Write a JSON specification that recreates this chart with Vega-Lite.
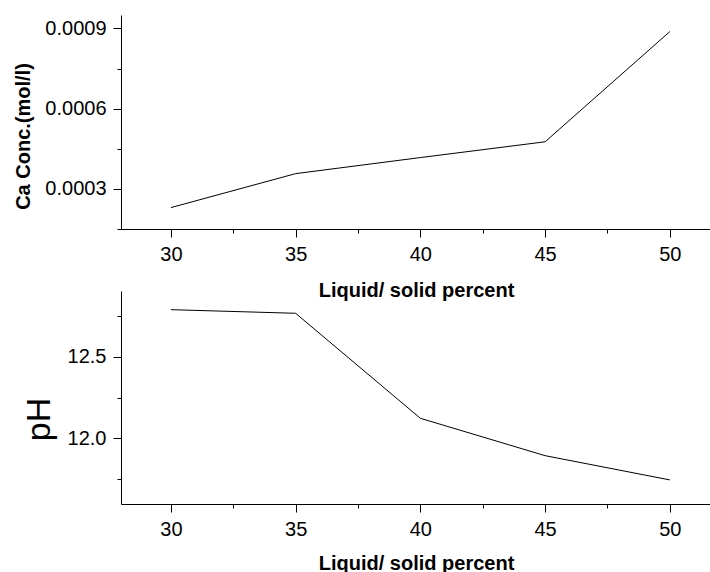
{
  "$schema": "https://vega.github.io/schema/vega-lite/v6.json",
  "background": "white",
  "padding": {"left": 12, "top": 15, "right": 0, "bottom": 0},
  "bounds": "flush",
  "spacing": 62,
  "config": {
    "font": "Liberation Sans",
    "view": {"stroke": null},
    "axis": {
      "grid": false,
      "domainColor": "black",
      "domainWidth": 1,
      "tickColor": "black",
      "tickWidth": 1,
      "labelColor": "black",
      "titleColor": "black",
      "labelFontSize": 20,
      "labelPadding": 7,
      "labelOverlap": false,
      "labelFlush": false,
      "titleBaseline": "alphabetic"
    }
  },
  "datasets": {
    "ca": [
      {"ratio": 30, "ca": 0.00023},
      {"ratio": 35, "ca": 0.000357},
      {"ratio": 40, "ca": 0.000417},
      {"ratio": 45, "ca": 0.000476},
      {"ratio": 50, "ca": 0.000888}
    ],
    "ph": [
      {"ratio": 30, "ph": 12.786},
      {"ratio": 35, "ph": 12.764},
      {"ratio": 40, "ph": 12.123},
      {"ratio": 45, "ph": 11.895},
      {"ratio": 50, "ph": 11.747}
    ]
  },
  "vconcat": [
    {
      "width": 590,
      "height": 214,
      "data": {"name": "ca"},
      "mark": {"type": "line", "color": "black", "strokeWidth": 1},
      "encoding": {
        "x": {
          "field": "ratio",
          "type": "quantitative",
          "scale": {"domain": [28, 51.65], "nice": false, "zero": false},
          "axis": {
            "title": "Liquid/ solid percent",
            "titleFontSize": 20,
            "titleFontWeight": "bold",
            "titleY": 67,
            "values": [30, 32.5, 35, 37.5, 40, 42.5, 45, 47.5, 50],
            "format": "d",
            "labelExpr": "round(datum.value*2) % 10 === 0 ? datum.label : ''",
            "tickSize": {"condition": {"test": "round(datum.value*2) % 10 !== 0", "value": 4}, "value": 8}
          }
        },
        "y": {
          "field": "ca",
          "type": "quantitative",
          "scale": {"domain": [0.00015, 0.00095], "nice": false, "zero": false},
          "axis": {
            "title": "Ca Conc.(mol/l)",
            "titleFontSize": 20,
            "titleFontWeight": "bold",
            "titleX": -92,
            "titleY": 121,
            "titleAlign": "center",
            "values": [0.00015, 0.0003, 0.00045, 0.0006, 0.00075, 0.0009],
            "format": ".4f",
            "labelExpr": "round(datum.value*20000) % 6 === 0 ? datum.label : ''",
            "tickSize": {"condition": {"test": "round(datum.value*20000) % 6 !== 0", "value": 4}, "value": 8}
          }
        }
      }
    },
    {
      "width": 590,
      "height": 213,
      "data": {"name": "ph"},
      "mark": {"type": "line", "color": "black", "strokeWidth": 1},
      "encoding": {
        "x": {
          "field": "ratio",
          "type": "quantitative",
          "scale": {"domain": [28, 51.65], "nice": false, "zero": false},
          "axis": {
            "title": "Liquid/ solid percent",
            "titleFontSize": 20,
            "titleFontWeight": "bold",
            "titleY": 65,
            "values": [30, 32.5, 35, 37.5, 40, 42.5, 45, 47.5, 50],
            "format": "d",
            "labelExpr": "round(datum.value*2) % 10 === 0 ? datum.label : ''",
            "tickSize": {"condition": {"test": "round(datum.value*2) % 10 !== 0", "value": 4}, "value": 8}
          }
        },
        "y": {
          "field": "ph",
          "type": "quantitative",
          "scale": {"domain": [11.6, 12.9], "nice": false, "zero": false},
          "axis": {
            "title": "pH",
            "titleFontSize": 34,
            "titleFontWeight": "normal",
            "titleX": -72,
            "titleY": 128,
            "titleAlign": "center",
            "values": [11.75, 12.0, 12.25, 12.5, 12.75],
            "format": ".1f",
            "labelExpr": "round(datum.value*4) % 2 === 0 ? datum.label : ''",
            "tickSize": {"condition": {"test": "round(datum.value*4) % 2 !== 0", "value": 4}, "value": 8}
          }
        }
      }
    }
  ]
}
